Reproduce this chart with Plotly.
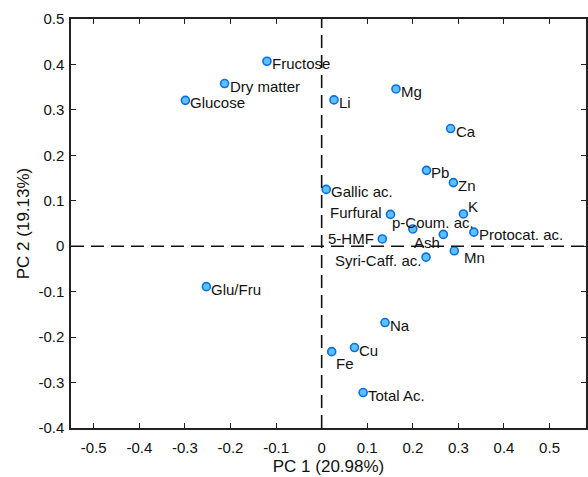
import plotly.graph_objects as go

names = ["Fructose", "Dry matter", "Glucose", "Li", "Mg", "Ca", "Pb", "Zn",
         "Gallic ac.", "K", "Furfural", "p-Coum. ac.", "5-HMF", "Ash",
         "Protocat. ac.", "Mn", "Syri-Caff. ac.", "Glu/Fru", "Na", "Cu", "Fe",
         "Total Ac."]
pc1 = [-0.120, -0.213, -0.299, 0.027, 0.163, 0.283, 0.230, 0.289,
       0.010, 0.311, 0.151, 0.200, 0.133, 0.267,
       0.334, 0.291, 0.229, -0.253, 0.139, 0.072, 0.022,
       0.091]
pc2 = [0.407, 0.358, 0.321, 0.322, 0.346, 0.259, 0.167, 0.140,
       0.125, 0.071, 0.070, 0.038, 0.016, 0.026,
       0.031, -0.010, -0.024, -0.089, -0.168, -0.223, -0.232,
       -0.322]

x_ticks = [-0.5, -0.4, -0.3, -0.2, -0.1, 0, 0.1, 0.2, 0.3, 0.4, 0.5]
x_tick_labels = ["-0.5", "-0.4", "-0.3", "-0.2", "-0.1", "0", "0.1", "0.2", "0.3", "0.4", "0.5"]
y_ticks = [-0.4, -0.3, -0.2, -0.1, 0, 0.1, 0.2, 0.3, 0.4, 0.5]
y_tick_labels = ["-0.4", "-0.3", "-0.2", "-0.1", "0", "0.1", "0.2", "0.3", "0.4", "0.5"]

x_title = "PC 1 (20.98%)"
y_title = "PC 2 (19.13%)"

# label placement: (xanchor, xshift, yshift)
label_place = {
    "Furfural": ("right", -6, 2),
    "p-Coum. ac.": ("center", 20, 6),
    "5-HMF": ("right", -6, 0),
    "Ash": ("right", -1, -8),
    "Syri-Caff. ac.": ("right", -3, -3),
    "K": ("left", 3, 7),
    "Mn": ("left", 8, -7),
    "Fe": ("left", 2, -12),
}

FONT = "Arial, Liberation Sans, sans-serif"

fig = go.Figure()
fig.add_trace(go.Scatter(
    x=pc1, y=pc2, mode="markers",
    marker=dict(size=8, color="#5ec0f8", line=dict(color="#0a6ee6", width=1.6)),
    hoverinfo="skip", showlegend=False,
))

annotations = []
for n, xv, yv in zip(names, pc1, pc2):
    xa, xs, ys = label_place.get(n, ("left", 3, -2.5))
    annotations.append(dict(
        x=xv, y=yv, xref="x", yref="y", text=n, showarrow=False,
        xanchor=xa, yanchor="middle", xshift=xs, yshift=ys,
        font=dict(family=FONT, size=15, color="#111"),
    ))

shapes = [
    dict(type="line", xref="x", yref="paper", x0=0, x1=0, y0=0, y1=1,
         line=dict(color="#111", width=1.6, dash="13px,7px")),
    dict(type="line", xref="paper", yref="y", x0=0, x1=1, y0=0, y1=0,
         line=dict(color="#111", width=1.6, dash="13px,7px")),
]

axis_common = dict(
    showgrid=False, zeroline=False, showline=True, linecolor="#222", linewidth=1.5,
    mirror="ticks", ticks="inside", ticklen=5, tickwidth=1.2, tickcolor="#222",
    tickfont=dict(family=FONT, size=15, color="#111"),
)

fig.update_layout(
    width=588, height=477,
    margin=dict(l=71, r=0, t=19, b=49),
    paper_bgcolor="white", plot_bgcolor="white",
    xaxis=dict(range=[-0.55, 0.58], tickvals=x_ticks, ticktext=x_tick_labels,
               ticklabelstandoff=5,
               title=dict(text=x_title, font=dict(family=FONT, size=17, color="#111"), standoff=5),
               **axis_common),
    yaxis=dict(range=[-0.4, 0.5], tickvals=y_ticks, ticktext=y_tick_labels,
               ticklabelstandoff=2,
               title=dict(text=y_title, font=dict(family=FONT, size=17, color="#111"), standoff=4),
               **axis_common),
    annotations=annotations, shapes=shapes,
)

fig.write_html("out.html")
